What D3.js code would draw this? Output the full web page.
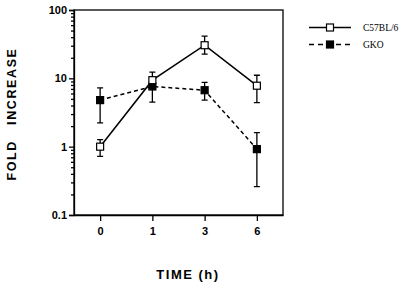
<!DOCTYPE html>
<html lang="en">
<head>
    <meta charset="UTF-8">
    <title>Fold increase over time</title>
    <script src="https://d3js.org/d3.v7.min.js"></script>
    <style>
        body { margin: 0; background: #fff; }
        .axis text { font-family: "Liberation Sans", Arial, sans-serif; font-weight: bold; font-size: 11px; fill: #000; }
        .axis path, .axis line { stroke: #000; stroke-width: 1.3px; }
        .title { font-family: "Liberation Sans", Arial, sans-serif; font-weight: bold; font-size: 12px; }
        .legend text { font-family: "Liberation Serif", "Times New Roman", serif; font-size: 9.5px; }
    </style>
</head>
<body>
<script>

    // time points (h)
    const times = ["0", "1", "3", "6"];

    // C57BL/6 (open squares, solid line)
    const c57Mean = [1.0, 9.4, 30.5, 7.8];
    const c57Low  = [0.72, 7.0, 22.6, 4.4];
    const c57High = [1.27, 12.3, 41.5, 11.1];

    // GKO (filled squares, dashed line)
    const gkoMean = [4.8, 7.6, 6.7, 0.92];
    const gkoLow  = [2.23, 4.5, 4.8, 0.26];
    const gkoHigh = [7.26, 9.0, 8.7, 1.6];

    const yTicks = [0.1, 1, 10, 100];

    const svgW = 408, svgH = 287;
    const mLeft = 74, mRight = 283, mTop = 10, mBottom = 215;

    const svg = d3.select("body").append("svg")
        .attr("width", svgW)
        .attr("height", svgH);

    const x = d3.scalePoint().domain(times).range([mLeft, mRight]).padding(0.5);
    const y = d3.scaleLog().domain([0.1, 100]).range([mBottom, mTop]);

    // frame
    svg.append("rect")
        .attr("x", mLeft).attr("y", mTop)
        .attr("width", mRight - mLeft).attr("height", mBottom - mTop)
        .attr("fill", "none").attr("stroke", "#000").attr("stroke-width", 1.3);

    // y axis, minor ticks first
    const minor = [];
    for (let d = 0.1; d < 100; d *= 10) {
        for (let k = 2; k <= 9; k++) minor.push(d * k);
    }
    svg.append("g")
        .attr("class", "axis")
        .attr("transform", `translate(${mLeft},0)`)
        .call(d3.axisLeft(y).tickValues(minor).tickSize(3).tickFormat(""))
        .call(g => g.select(".domain").remove());

    svg.append("g")
        .attr("class", "axis")
        .attr("transform", `translate(${mLeft},0)`)
        .call(d3.axisLeft(y).tickValues(yTicks).tickSize(5).tickPadding(2)
            .tickFormat(d => d < 1 ? "0.1" : d3.format("d")(d)));

    // x axis
    svg.append("g")
        .attr("class", "axis")
        .attr("transform", `translate(0,${mBottom})`)
        .call(d3.axisBottom(x).tickSize(6).tickPadding(6).tickSizeOuter(0));

    // axis titles
    svg.append("text")
        .attr("class", "title")
        .attr("transform", "translate(16,114) rotate(-90)")
        .attr("text-anchor", "middle")
        .attr("xml:space", "preserve")
        .style("letter-spacing", "1.6px")
        .style("font-size", "12.5px")
        .text("FOLD   INCREASE");

    svg.append("text")
        .attr("class", "title")
        .attr("x", 188).attr("y", 279)
        .attr("text-anchor", "middle")
        .style("letter-spacing", "1.5px")
        .style("font-size", "13px")
        .text("TIME (h)");

    const series = [
        { name: "C57BL/6", mean: c57Mean, low: c57Low, high: c57High, fill: "#fff", dash: null },
        { name: "GKO", mean: gkoMean, low: gkoLow, high: gkoHigh, fill: "#000", dash: "4,3" }
    ];

    const line = d3.line().x(d => x(d.t)).y(d => y(d.v));
    const plot = svg.append("g");
    const cap = 3, box = 7;

    // draw GKO first so open squares sit on top where they overlap
    series.slice().reverse().forEach(s => {
        const pts = times.map((t, i) => ({ t, v: s.mean[i], lo: s.low[i], hi: s.high[i] }));
        const g = plot.append("g");

        g.selectAll(".err").data(pts).enter().append("path")
            .attr("fill", "none").attr("stroke", "#000").attr("stroke-width", 1.3)
            .attr("d", d => {
                const cx = x(d.t);
                return `M${cx},${y(d.lo)}V${y(d.hi)}` +
                    `M${cx - cap},${y(d.lo)}H${cx + cap}` +
                    `M${cx - cap},${y(d.hi)}H${cx + cap}`;
            });

        g.append("path").datum(pts)
            .attr("fill", "none").attr("stroke", "#000").attr("stroke-width", 1.5)
            .attr("stroke-dasharray", s.dash)
            .attr("d", line);

        g.selectAll("rect").data(pts).enter().append("rect")
            .attr("x", d => x(d.t) - box / 2).attr("y", d => y(d.v) - box / 2)
            .attr("width", box).attr("height", box)
            .attr("fill", s.fill).attr("stroke", "#000").attr("stroke-width", 1.2);
    });

    // legend
    const legend = svg.append("g").attr("class", "legend");
    series.forEach((s, i) => {
        const ly = 27.5 + i * 17;
        legend.append("line")
            .attr("x1", 309).attr("x2", 351).attr("y1", ly).attr("y2", ly)
            .attr("stroke", "#000").attr("stroke-width", 1.3)
            .attr("stroke-dasharray", s.dash ? "5,4" : null);
        legend.append("rect")
            .attr("x", 330 - box / 2).attr("y", ly - box / 2)
            .attr("width", box).attr("height", box)
            .attr("fill", s.fill).attr("stroke", "#000").attr("stroke-width", 1.2);
        legend.append("text")
            .attr("x", 363).attr("y", ly + 3.5)
            .text(s.name);
    });

</script>
</body>
</html>
